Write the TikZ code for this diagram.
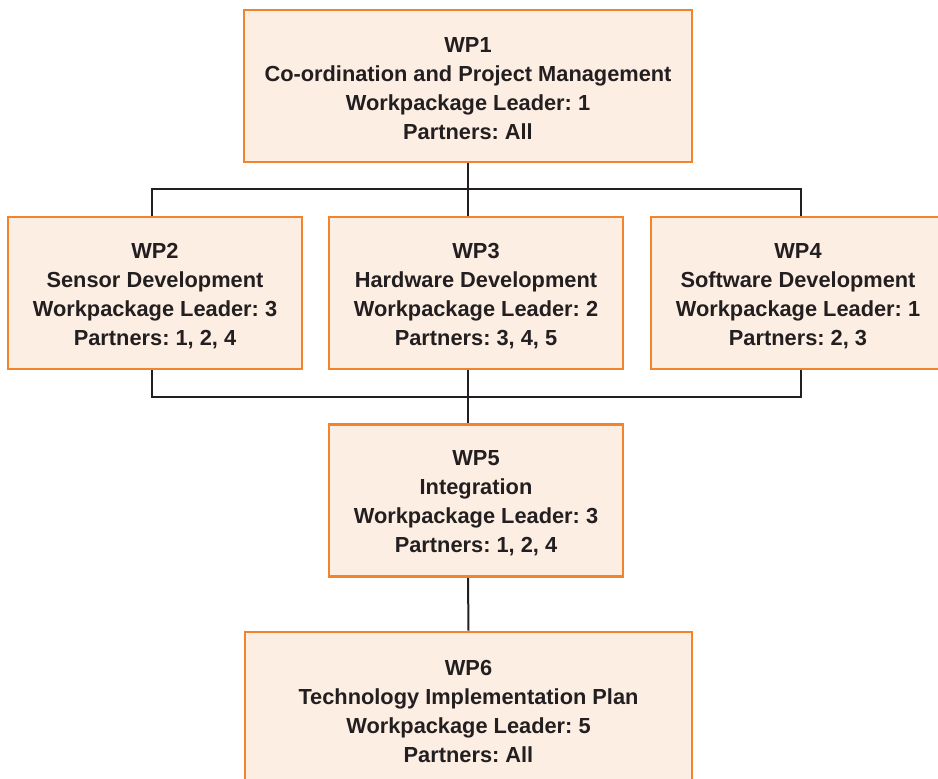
\documentclass[tikz,border=0pt]{standalone}
\usepackage{fontspec}
\setmainfont{Liberation Sans}
\definecolor{wpfill}{HTML}{FDEEE3}
\definecolor{wpedge}{HTML}{F4842B}
\definecolor{wpline}{HTML}{231F20}
\begin{document}
\begin{tikzpicture}[x=1pt,y=-1pt,
  wpbox/.style={draw=wpedge, fill=wpfill, line width=2.6pt, rectangle,
    minimum height=152pt, inner sep=0pt},
  wptext/.style={align=center, text=wpline, inner sep=0pt, yshift=-3pt,
    font=\fontsize{21.8}{29}\selectfont\bfseries\frenchspacing},
  link/.style={draw=wpline, line width=2pt}]
\useasboundingbox (0,0) rectangle (938,779);
\clip (0,0) rectangle (938,779);
\fill[white] (0,0) rectangle (938,779);

% work packages (box with its text set as a centred label)
\node[wpbox, minimum width=448pt,
  label={[wptext]center:WP1\\Co-ordination and Project Management\\Workpackage Leader: 1\\Partners: All}]
  (wp1) at (468,86) {};
\node[wpbox, minimum width=294pt,
  label={[wptext]center:WP2\\Sensor Development\\Workpackage Leader: 3\\Partners: 1, 2, 4}]
  (wp2) at (155,293) {};
\node[wpbox, minimum width=294pt,
  label={[wptext]center:WP3\\Hardware Development\\Workpackage Leader: 2\\Partners: 3, 4, 5}]
  (wp3) at (476,293) {};
\node[wpbox, minimum width=294pt,
  label={[wptext]center:WP4\\Software Development\\Workpackage Leader: 1\\Partners: 2, 3}]
  (wp4) at (798,293) {};
\node[wpbox, minimum width=294pt,
  label={[wptext]center:WP5\\Integration\\Workpackage Leader: 3\\Partners: 1, 2, 4}]
  (wp5) at (476,500.5) {};
\node[wpbox, minimum width=447pt,
  label={[wptext]center:WP6\\Technology Implementation Plan\\Workpackage Leader: 5\\Partners: All}]
  (wp6) at (468.5,708) {};

% junction points of the connector bars
\coordinate (hubA) at (468,189);
\coordinate (hubB) at (468,397);

% WP1 to the three development packages
\draw[link] (wp1.south) -- (hubA);
\draw[link] ([xshift=-3pt]wp2.north) |- (hubA) -| ([xshift=3pt]wp4.north);
\draw[link] (hubA) -- ([xshift=-8pt]wp3.north);

% development packages into integration
\draw[link] ([xshift=-3pt]wp2.south) |- (hubB) -| ([xshift=3pt]wp4.south);
\draw[link] ([xshift=-8pt]wp3.south) -- ([xshift=-8pt]wp5.north);

% integration to implementation plan
\draw[link] ([xshift=-8pt]wp5.south) -- (wp6.north);
\end{tikzpicture}
\end{document}
